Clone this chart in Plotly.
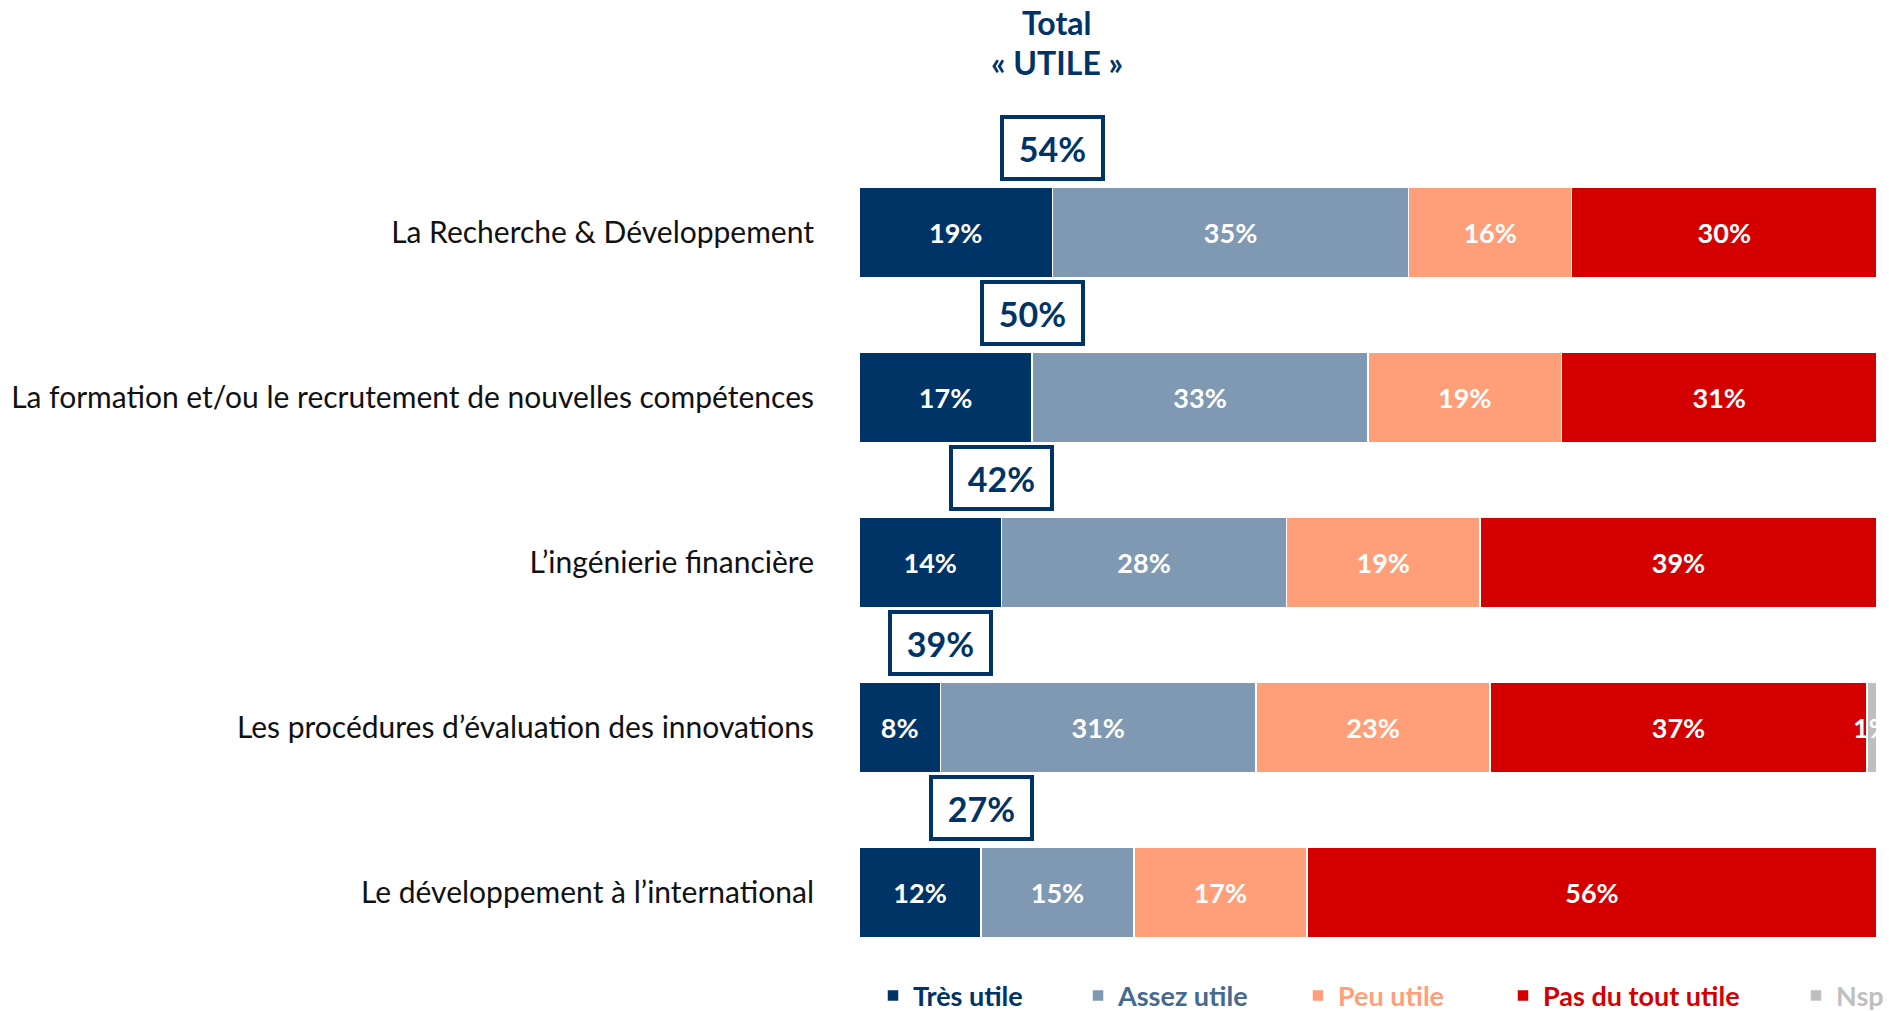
import plotly.graph_objects as go

categories = [
    "La Recherche & Développement",
    "La formation et/ou le recrutement de nouvelles compétences",
    "L\u2019ingénierie financière",
    "Les procédures d\u2019évaluation des innovations",
    "Le développement à l\u2019international",
]
tres_utile = [19, 17, 14, 8, 12]
assez_utile = [35, 33, 28, 31, 15]
peu_utile = [16, 19, 19, 23, 17]
pas_du_tout = [30, 31, 39, 37, 56]
nsp = [0, 0, 0, 1, 0]

series_names = ["Très utile", "Assez utile", "Peu utile", "Pas du tout utile", "Nsp"]
series_values = [tres_utile, assez_utile, peu_utile, pas_du_tout, nsp]
series_colors = ["#003366", "#7F99B2", "#FF9F7A", "#D40000", "#BFBFBF"]
legend_text_colors = ["#003366", "#45698F", "#FF9F7A", "#D40000", "#BFBFBF"]
title_lines = ["Total", "« UTILE »"]

W, H = 1889, 1011
L, R = 859, 12
T, B = 150, 36
plot_w = W - L - R
plot_h = H - T - B

FONT = "Lato"
NAVY = "#003366"

fig = go.Figure()
legend_px = [873, 1078, 1298, 1503, 1796]
for i, (name, vals, col) in enumerate(zip(series_names, series_values, series_colors)):
    lg = "legend" if i == 0 else f"legend{i+1}"
    fig.add_trace(go.Bar(
        y=categories, x=vals, name=name, orientation="h",
        marker=dict(color=col, line=dict(color="white", width=1.5)),
        text=[f"{v}%" if v > 0 else "" for v in vals],
        textposition="inside", insidetextanchor="middle",
        textangle=0, constraintext="none",
        textfont=dict(family=FONT, size=27, color="white", weight="bold"),
        cliponaxis=True,
        legend=lg, hoverinfo="x+name",
    ))

legends = {}
for i, (name, tc) in enumerate(zip(series_names, legend_text_colors)):
    key = "legend" if i == 0 else f"legend{i+1}"
    legends[key] = dict(
        x=(legend_px[i] - L) / plot_w, xanchor="left",
        y=-21 / plot_h, yanchor="middle",
        orientation="h", bgcolor="rgba(0,0,0,0)",
        font=dict(family=FONT, size=27, color=tc, weight="bold"),
        itemwidth=30, tracegroupgap=0,
    )

# Total "utile" boxes
for cat, a, b in zip(categories, tres_utile, assez_utile):
    fig.add_annotation(
        x=a, y=cat, xref="x", yref="y", yshift=85,
        text=f"<b>{a + b}%</b>", showarrow=False,
        font=dict(family=FONT, size=34, color=NAVY),
        bordercolor=NAVY, borderwidth=4, borderpad=4,
        bgcolor="white", width=89, height=50,
        xanchor="center", yanchor="middle",
    )

# Header above the boxes
for line, shift in zip(title_lines, [128, 88]):
    fig.add_annotation(
        x=(1057 - L) / plot_w, y=1, xref="paper", yref="paper", yshift=shift,
        text=f"<b>{line}</b>", showarrow=False,
        font=dict(family=FONT, size=32, color=NAVY),
        xanchor="center", yanchor="middle",
    )

fig.update_layout(
    width=W, height=H,
    margin=dict(l=L, r=R, t=T, b=B, pad=0, autoexpand=False),
    barmode="stack", bargap=0.454,
    plot_bgcolor="white", paper_bgcolor="white",
    showlegend=True,
    xaxis=dict(range=[0, 100], visible=False, fixedrange=True),
    yaxis=dict(range=[len(categories) - 0.5, -0.5], autorange=False,
               showgrid=False, showline=False, zeroline=False,
               ticks="", ticklabelstandoff=44, fixedrange=True,
               tickfont=dict(family=FONT, size=30, color="#111111")),
    **legends,
)

fig.write_html("out.html", config={"displayModeBar": False},
               post_script="document.body.style.margin='0';document.body.style.overflow='hidden';")
